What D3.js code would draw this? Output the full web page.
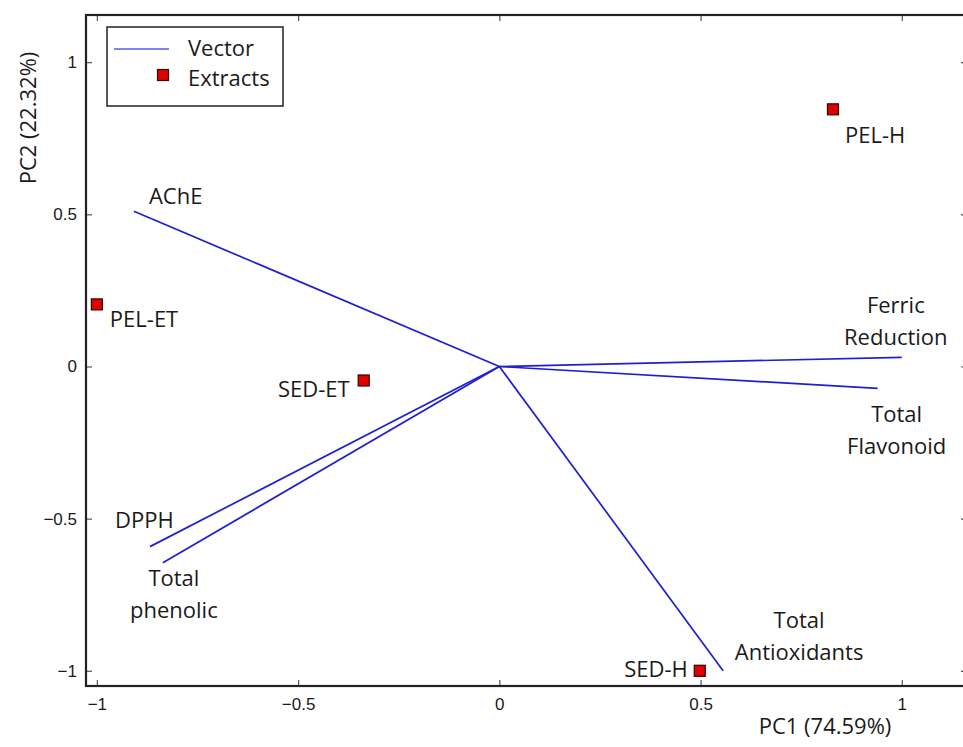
<!DOCTYPE html>
<html>
<head>
<meta charset="utf-8">
<script src="https://cdn.jsdelivr.net/npm/d3@7"></script>
<style>
  html, body { margin: 0; padding: 0; background: #fff; }
  svg { display: block; }
</style>
</head>
<body>
<div id="chart"></div>
<script>
// PCA biplot data
const extracts = ['PEL-H', 'PEL-ET', 'SED-ET', 'SED-H'];
const extractPC1 = [0.829, -1.0, -0.337, 0.498];
const extractPC2 = [0.845, 0.204, -0.046, -1.0];

const vectors = [['AChE'], ['Ferric', 'Reduction'], ['Total', 'Flavonoid'], ['DPPH'], ['Total', 'phenolic'], ['Total', 'Antioxidants']];
const vectorPC1 = [-0.908, 1.0, 0.94, -0.868, -0.836, 0.556];
const vectorPC2 = [0.51, 0.03, -0.072, -0.592, -0.645, -1.0];

const tickValues = [-1, -0.5, 0, 0.5, 1];
const xTitle = 'PC1 (74.59%)';
const yTitle = 'PC2 (22.32%)';
const legendItems = ['Vector', 'Extracts'];

// label placement relative to the mark (pixels)
const extractLabelPos = [
  { dx: 12, dy: 34, anchor: 'start' },
  { dx: 13, dy: 23, anchor: 'start' },
  { dx: -14, dy: 17, anchor: 'end' },
  { dx: -12, dy: 6, anchor: 'end' }
];
const vectorLabelPos = [
  { dx: 15, dy: -7, anchor: 'start' },
  { dx: -6, dy: -44, anchor: 'middle' },
  { dx: 19, dy: 34, anchor: 'middle' },
  { dx: -35, dy: -19, anchor: 'start' },
  { dx: 11, dy: 23, anchor: 'middle' },
  { dx: 76, dy: -43, anchor: 'middle' }
];

const W = 963, H = 747;
const box = { left: 86, right: 967, top: 15, bottom: 686 };
const blue = '#1f1fd0';
const labelFont = '"Open Sans", sans-serif';
const labelSize = 22;
const tickFont = '"Liberation Sans", Arial, sans-serif';

const x = d3.scaleLinear().domain([-1.027, 1.162]).range([box.left, box.right]);
const y = d3.scaleLinear().domain([-1.05, 1.155]).range([box.bottom, box.top]);

const svg = d3.select('#chart').append('svg').attr('width', W).attr('height', H);

// axes with inward ticks on all four sides
const fmt = d3.format('');
const tickLen = 6;
svg.append('g').attr('transform', `translate(0,${box.bottom})`)
  .call(d3.axisBottom(x).tickValues(tickValues).tickSize(-tickLen).tickPadding(12).tickFormat(fmt));
svg.append('g').attr('transform', `translate(0,${box.top})`)
  .call(d3.axisTop(x).tickValues(tickValues).tickSize(-tickLen).tickFormat(''));
svg.append('g').attr('transform', `translate(${box.left},0)`)
  .call(d3.axisLeft(y).tickValues(tickValues).tickSize(-tickLen).tickPadding(9).tickFormat(fmt));
svg.append('g').attr('transform', `translate(${box.right},0)`)
  .call(d3.axisRight(y).tickValues(tickValues).tickSize(-tickLen).tickFormat(''));

svg.selectAll('.domain').remove();
svg.selectAll('.tick line').attr('stroke', '#555').attr('stroke-width', 1.2);
svg.selectAll('.tick text').attr('font-family', tickFont).attr('font-size', 17).attr('fill', '#1a1a1a');

svg.append('rect')
  .attr('x', box.left).attr('y', box.top)
  .attr('width', box.right - box.left).attr('height', box.bottom - box.top)
  .attr('fill', 'none').attr('stroke', '#222').attr('stroke-width', 2.2);

// vectors
const vec = vectors.map((v, i) => ({ lines: v, px: vectorPC1[i], py: vectorPC2[i], pos: vectorLabelPos[i] }));
svg.append('g').selectAll('line').data(vec).join('line')
  .attr('x1', x(0)).attr('y1', y(0))
  .attr('x2', d => x(d.px)).attr('y2', d => y(d.py))
  .attr('stroke', blue).attr('stroke-width', 1.7);

const vl = svg.append('g').selectAll('text').data(vec).join('text')
  .attr('font-family', labelFont).attr('font-size', labelSize).attr('fill', '#1a1a1a')
  .attr('text-anchor', d => d.pos.anchor)
  .attr('x', d => x(d.px) + d.pos.dx)
  .attr('y', d => y(d.py) + d.pos.dy);
vl.selectAll('tspan').data(d => d.lines.map((t, k) => ({ t, k, d }))).join('tspan')
  .attr('x', e => x(e.d.px) + e.d.pos.dx)
  .attr('dy', e => e.k === 0 ? 0 : 32)
  .text(e => e.t);

// extracts
const ext = extracts.map((n, i) => ({ name: n, px: extractPC1[i], py: extractPC2[i], pos: extractLabelPos[i] }));
const sq = 11;
svg.append('g').selectAll('rect').data(ext).join('rect')
  .attr('x', d => x(d.px) - sq / 2).attr('y', d => y(d.py) - sq / 2)
  .attr('width', sq).attr('height', sq)
  .attr('fill', '#e00000').attr('stroke', '#3a0000').attr('stroke-width', 1.2);

svg.append('g').selectAll('text').data(ext).join('text')
  .attr('font-family', labelFont).attr('font-size', labelSize).attr('fill', '#1a1a1a')
  .attr('text-anchor', d => d.pos.anchor)
  .attr('x', d => x(d.px) + d.pos.dx)
  .attr('y', d => y(d.py) + d.pos.dy)
  .text(d => d.name);

// axis titles
svg.append('text')
  .attr('x', 825).attr('y', 734)
  .attr('text-anchor', 'middle')
  .attr('font-family', labelFont).attr('font-size', labelSize).attr('fill', '#1a1a1a')
  .text(xTitle);
svg.append('text')
  .attr('transform', 'translate(36,118) rotate(-90)')
  .attr('text-anchor', 'middle')
  .attr('font-family', labelFont).attr('font-size', labelSize).attr('fill', '#1a1a1a')
  .text(yTitle);

// legend
const lg = svg.append('g');
lg.append('rect')
  .attr('x', 107).attr('y', 27).attr('width', 176).attr('height', 79)
  .attr('fill', '#fff').attr('stroke', '#222').attr('stroke-width', 1.5);
lg.append('line')
  .attr('x1', 114).attr('x2', 169).attr('y1', 49).attr('y2', 49)
  .attr('stroke', '#5a5af0').attr('stroke-width', 1.6);
lg.append('rect')
  .attr('x', 163 - sq / 2).attr('y', 75 - sq / 2).attr('width', sq).attr('height', sq)
  .attr('fill', '#e00000').attr('stroke', '#3a0000').attr('stroke-width', 1.2);
lg.selectAll('text.item').data(legendItems).join('text')
  .attr('class', 'item')
  .attr('x', 188).attr('y', (d, i) => 56 + i * 30)
  .attr('font-family', labelFont).attr('font-size', labelSize).attr('fill', '#1a1a1a')
  .text(d => d);
</script>
</body>
</html>
